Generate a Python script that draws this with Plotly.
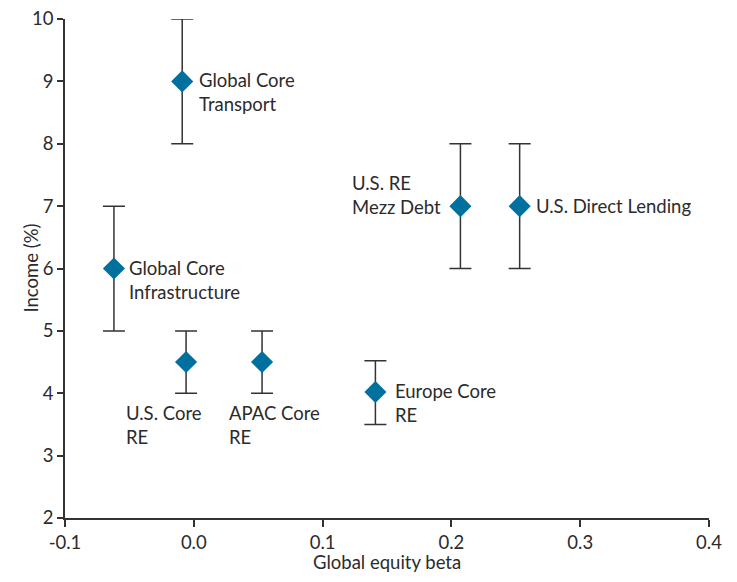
import plotly.graph_objects as go

names = ["Global Core<br>Infrastructure", "Global Core<br>Transport", "U.S. Core<br>RE",
         "APAC Core<br>RE", "Europe Core<br>RE", "U.S. RE<br>Mezz Debt", "U.S. Direct Lending"]
beta = [-0.062, -0.009, -0.006, 0.053, 0.141, 0.207, 0.253]
income = [6.0, 9.0, 4.5, 4.5, 4.02, 7.0, 7.0]
err_plus = [1.0, 1.0, 0.5, 0.5, 0.5, 1.0, 1.0]
err_minus = [1.0, 1.0, 0.5, 0.5, 0.52, 1.0, 1.0]
x_title = "Global equity beta"
y_title = "Income (%)"
# label placement: (xanchor, xshift, yshift)
label_pos = [("left", 13, -11), ("left", 15, -11), ("left", -62, -63),
             ("left", -35, -63), ("left", 18, -11), ("right", -17, 11),
             ("left", 14, 0)]

FONT = "Lato"
FS = 18.5
fig = go.Figure()
fig.add_trace(go.Scatter(
    x=beta, y=income, mode="markers",
    marker=dict(symbol="diamond", size=17, color="#00719f"),
    error_y=dict(type="data", symmetric=False, array=err_plus, arrayminus=err_minus,
                 color="#333333", thickness=1.5, width=11),
    showlegend=False, hoverinfo="skip"))

for n, x, y, (xa, xs, ys) in zip(names, beta, income, label_pos):
    fig.add_annotation(x=x, y=y, text=n, showarrow=False, xanchor=xa, yanchor="middle",
                       xshift=xs, yshift=ys, align="left",
                       font=dict(family=FONT, size=FS, color="#2b2b2b"))

# axis titles
fig.add_annotation(xref="paper", yref="paper", x=0.5, y=0, yshift=-44, text=x_title,
                   showarrow=False, xanchor="center", yanchor="middle",
                   font=dict(family=FONT, size=FS, color="#2b2b2b"))
fig.add_annotation(xref="paper", yref="paper", x=0, y=0.5, xshift=-35, text=y_title,
                   textangle=-90, showarrow=False, xanchor="center", yanchor="middle",
                   font=dict(family=FONT, size=FS, color="#2b2b2b"))

# page body has an 8px margin, so the figure is offset by 8px
fig.update_layout(
    width=721, height=566, margin=dict(l=57, r=20, t=11, b=56),
    plot_bgcolor="white", paper_bgcolor="white",
    font=dict(family=FONT, size=FS, color="#2b2b2b"),
    xaxis=dict(range=[-0.1, 0.4], tickvals=[-0.1, 0, 0.1, 0.2, 0.3, 0.4],
               ticktext=["-0.1", "0.0", "0.1", "0.2", "0.3", "0.4"], automargin=False,
               ticklabeloverflow="allow",
               showgrid=False, zeroline=False, showline=True, linecolor="#333333", linewidth=1.5,
               ticks="outside", ticklen=7, tickcolor="#333333", tickwidth=1.5),
    yaxis=dict(range=[2, 10], tickvals=[2, 3, 4, 5, 6, 7, 8, 9, 10], automargin=False,
               ticklabeloverflow="allow",
               showgrid=False, zeroline=False, showline=True, linecolor="#333333", linewidth=1.5,
               ticks="outside", ticklen=6, tickcolor="#333333", tickwidth=1.5),
)
fig.write_html("out.html")
